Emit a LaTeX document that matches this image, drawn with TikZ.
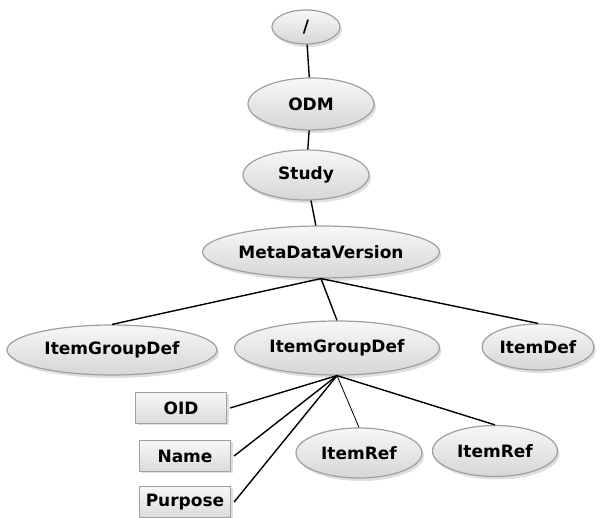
\documentclass[tikz,border=0pt]{standalone}
\usepackage{fontspec}
\setmainfont{DejaVu Sans}
\usetikzlibrary{shapes.geometric,shadows}

\tikzset{
  elem/.style={ellipse,draw=gray!75,line width=1.2pt,top color=gray!6,bottom color=gray!32,
    drop shadow={shadow xshift=2pt,shadow yshift=-3pt,opacity=.25},
    inner sep=0pt,font=\bfseries\fontsize{17}{19}\selectfont},
  attr/.style={rectangle,draw=gray!75,line width=1.2pt,top color=gray!6,bottom color=gray!28,
    drop shadow={shadow xshift=2pt,shadow yshift=-2pt,opacity=.25},
    minimum width=91pt,minimum height=31pt,inner sep=0pt,font=\bfseries\fontsize{17}{19}\selectfont},
  link/.style={line width=1.4pt,black}
}

\begin{document}
\begin{tikzpicture}[x=1pt,y=-1pt]
  \useasboundingbox (0,0) rectangle (600,518);
  % tree of elements
  \node[elem,minimum width=68pt,minimum height=34pt] (root) at (306,27) {/};
  \node[elem,minimum width=126pt,minimum height=52pt] (odm) at (311,104) {ODM};
  \node[elem,minimum width=126pt,minimum height=50pt] (study) at (306,175) {Study};
  \node[elem,minimum width=237pt,minimum height=52pt] (mdv) at (321,252) {MetaDataVersion};
  \node[elem,minimum width=210pt,minimum height=50pt] (igdA) at (112,350) {ItemGroupDef};
  \node[elem,minimum width=205pt,minimum height=54pt] (igdB) at (337,348) {ItemGroupDef};
  \node[elem,minimum width=112pt,minimum height=46pt] (idef) at (538,347) {ItemDef};
  % attributes
  \node[attr] (oid) at (181,408) {OID};
  \node[attr] (name) at (185,456) {Name};
  \node[attr] (purpose) at (185,502) {Purpose};
  % references
  \node[elem,minimum width=126pt,minimum height=50pt] (irefA) at (359,453) {ItemRef};
  \node[elem,minimum width=125pt,minimum height=51pt] (irefB) at (495,451) {ItemRef};

  \draw[link] (root) -- (odm);
  \draw[link] (odm) -- (study);
  \draw[link] (study) -- (mdv);
  \draw[link] (mdv.south) -- (igdA.north);
  \draw[link] (mdv.south) -- (igdB.north);
  \draw[link] (mdv.south) -- (idef.north);
  \foreach \a in {oid,name,purpose}
    \draw[link] (igdB.south) -- ([xshift=3pt]\a.east);
  \draw[link,line width=.8pt] (igdB.south) -- (irefA.north);
  \draw[link] (igdB.south) -- (irefB.north);
\end{tikzpicture}
\end{document}
